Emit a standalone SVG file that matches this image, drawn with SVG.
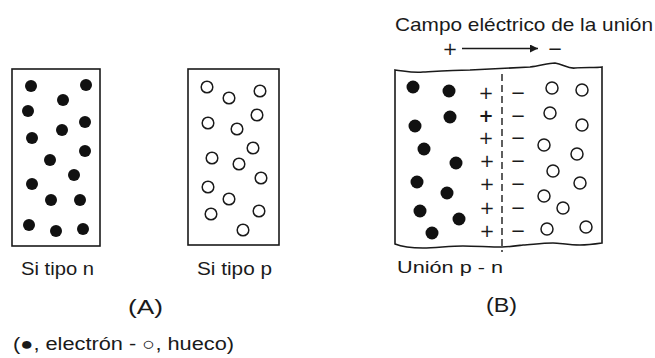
<svg xmlns="http://www.w3.org/2000/svg" width="655" height="358" viewBox="0 0 655 358">
<defs>
<style>
.box{fill:#fff;stroke:#1a1a1a;stroke-width:1.6}
.e{fill:#111}
.h{fill:none;stroke:#1a1a1a;stroke-width:1.5}
.t{font-family:"Liberation Sans",Arial,Helvetica,sans-serif;fill:#1a1a1a}
.sg{font-family:"DejaVu Sans",sans-serif;fill:#1a1a1a;font-size:18px;text-anchor:middle}
</style>
<marker id="ah" viewBox="0 0 10 10" refX="10" refY="5" markerWidth="12" markerHeight="8" markerUnits="userSpaceOnUse" orient="auto">
<path d="M0,0 L10,5 L0,10 z" fill="#1a1a1a"/>
</marker>
</defs>
<rect width="655" height="358" fill="#fff"/>

<g id="si-tipo-n">
<rect class="box" x="12" y="69" width="88" height="177"/>
<circle class="e" cx="31" cy="86" r="6"/>
<circle class="e" cx="86" cy="85" r="6"/>
<circle class="e" cx="63" cy="100" r="6"/>
<circle class="e" cx="28" cy="111" r="6"/>
<circle class="e" cx="85" cy="122" r="6"/>
<circle class="e" cx="62" cy="130" r="6"/>
<circle class="e" cx="32" cy="138" r="6"/>
<circle class="e" cx="85" cy="151" r="6"/>
<circle class="e" cx="50" cy="160" r="6"/>
<circle class="e" cx="74" cy="175" r="6"/>
<circle class="e" cx="32" cy="184" r="6"/>
<circle class="e" cx="51" cy="200" r="6"/>
<circle class="e" cx="80" cy="200" r="6"/>
<circle class="e" cx="29" cy="225" r="6"/>
<circle class="e" cx="56" cy="231" r="6"/>
<circle class="e" cx="83" cy="229" r="6"/>
<text class="t" x="21" y="275" font-size="18" textLength="73" lengthAdjust="spacingAndGlyphs">Si tipo n</text>
</g>

<g id="si-tipo-p">
<rect class="box" x="188" y="69" width="91" height="176"/>
<circle class="h" cx="207" cy="87" r="5.8"/>
<circle class="h" cx="229" cy="98" r="5.8"/>
<circle class="h" cx="260" cy="91" r="5.8"/>
<circle class="h" cx="208" cy="123" r="5.8"/>
<circle class="h" cx="257" cy="115" r="5.8"/>
<circle class="h" cx="237" cy="129" r="5.8"/>
<circle class="h" cx="253" cy="148" r="5.8"/>
<circle class="h" cx="212" cy="158" r="5.8"/>
<circle class="h" cx="239" cy="164" r="5.8"/>
<circle class="h" cx="261" cy="178" r="5.8"/>
<circle class="h" cx="208" cy="187" r="5.8"/>
<circle class="h" cx="229" cy="199" r="5.8"/>
<circle class="h" cx="211" cy="214" r="5.8"/>
<circle class="h" cx="259" cy="211" r="5.8"/>
<circle class="h" cx="243" cy="230" r="5.8"/>
<text class="t" x="197" y="275" font-size="18" textLength="75" lengthAdjust="spacingAndGlyphs">Si tipo p</text>
</g>

<g id="union-pn">
<path class="box" d="M395,70 C405,71 412,73 423,72 C440,71 455,70 470,70 C490,69 510,68 530,67 C540,66 548,63 555,63 C563,64 568,69 575,68 C585,67 595,68 602,67 L602,243 C595,244 588,245 580,245 C568,245 560,243 553,243 C540,243 530,245 523,245 C515,246 508,247 502,247 C490,247 475,246 463,246 C450,246 435,248 423,248 C410,248 400,246 395,244 Z"/>
<line x1="502" y1="74" x2="502" y2="252" stroke="#1a1a1a" stroke-width="1.4" stroke-dasharray="7 4"/>
<circle class="e" cx="413" cy="87" r="6.5"/>
<circle class="e" cx="449" cy="91" r="6.5"/>
<circle class="e" cx="415" cy="126" r="6.5"/>
<circle class="e" cx="450" cy="117" r="6.5"/>
<circle class="e" cx="424" cy="149" r="6.5"/>
<circle class="e" cx="456" cy="163" r="6.5"/>
<circle class="e" cx="417" cy="182" r="6.5"/>
<circle class="e" cx="447" cy="193" r="6.5"/>
<circle class="e" cx="420" cy="211" r="6.5"/>
<circle class="e" cx="459" cy="219" r="6.5"/>
<circle class="e" cx="432" cy="233" r="6.5"/>
<circle class="h" cx="552" cy="88" r="6"/>
<circle class="h" cx="582" cy="90" r="6"/>
<circle class="h" cx="550" cy="113" r="6"/>
<circle class="h" cx="582" cy="125" r="6"/>
<circle class="h" cx="544" cy="145" r="6"/>
<circle class="h" cx="577" cy="154" r="6"/>
<circle class="h" cx="553" cy="171" r="6"/>
<circle class="h" cx="580" cy="183" r="6"/>
<circle class="h" cx="544" cy="196" r="6"/>
<circle class="h" cx="563" cy="208" r="6"/>
<circle class="h" cx="547" cy="229" r="6"/>
<circle class="h" cx="586" cy="227" r="6"/>
<text class="sg" x="486" y="99">+</text>
<text class="sg" x="486" y="122" font-weight="bold">+</text>
<text class="sg" x="486" y="144">+</text>
<text class="sg" x="487" y="167">+</text>
<text class="sg" x="487" y="190">+</text>
<text class="sg" x="487" y="214">+</text>
<text class="sg" x="487" y="237">+</text>
<text class="sg" x="518" y="99">−</text>
<text class="sg" x="518" y="122">−</text>
<text class="sg" x="518" y="144">−</text>
<text class="sg" x="518" y="167">−</text>
<text class="sg" x="518" y="190">−</text>
<text class="sg" x="518" y="214">−</text>
<text class="sg" x="518" y="237">−</text>
<text class="t" x="397" y="273" font-size="17" textLength="106" lengthAdjust="spacingAndGlyphs">Unión  p - n</text>
</g>

<g id="campo-label">
<text class="t" x="395" y="31" font-size="19" textLength="258" lengthAdjust="spacingAndGlyphs">Campo eléctrico de la unión</text>
<text class="sg" x="450" y="55" font-size="18">+</text>
<text class="sg" x="555" y="55" font-size="18">−</text>
</g>

<g id="connectors">
<line x1="462" y1="48.5" x2="538" y2="48.5" stroke="#1a1a1a" stroke-width="1.3" marker-end="url(#ah)"/>
</g>

<g id="captions">
<text class="t" x="128" y="314" font-size="21" textLength="35" lengthAdjust="spacingAndGlyphs">(A)</text>
<text class="t" x="486" y="312" font-size="21" textLength="31" lengthAdjust="spacingAndGlyphs">(B)</text>
<text class="t" x="13" y="350" font-size="18" textLength="221" lengthAdjust="spacingAndGlyphs">(●, electrón -  ○, hueco)</text>
</g>
</svg>
